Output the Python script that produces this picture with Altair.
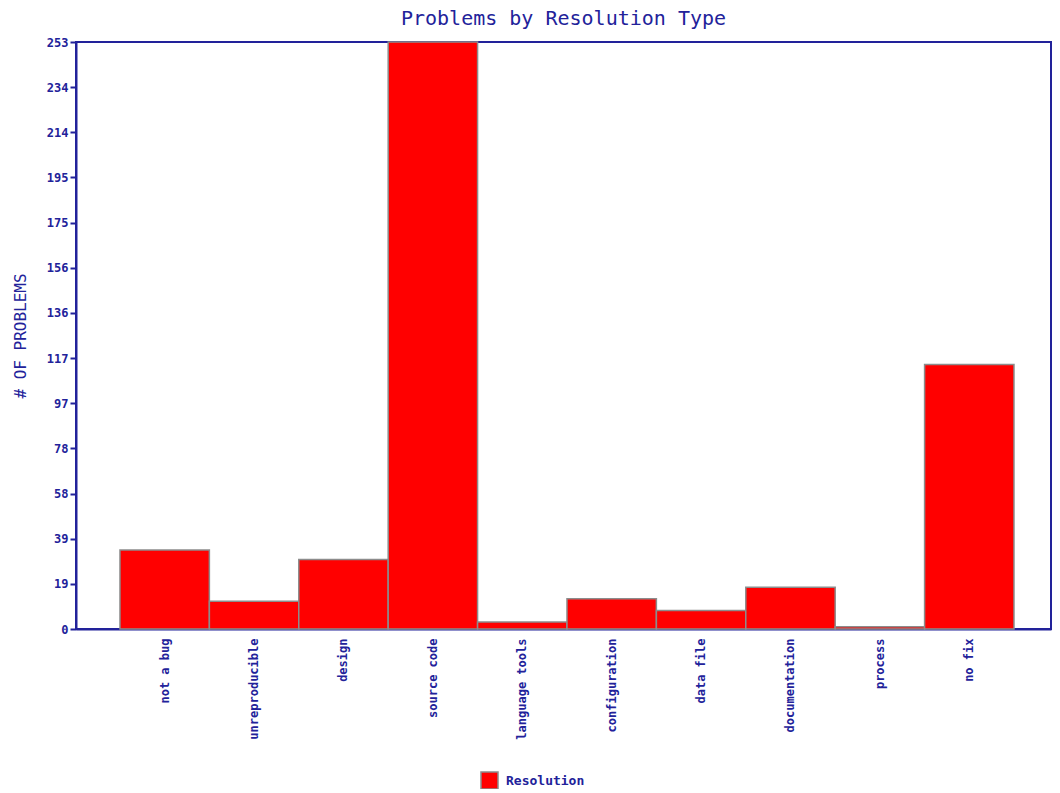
import altair as alt
import pandas as pd

categories = ["not a bug", "unreproducible", "design", "source code", "language tools",
              "configuration", "data file", "documentation", "process", "no fix"]
counts = [34, 12, 30, 253, 3, 13, 8, 18, 1, 114]
series_name = "Resolution"
y_max = 253
tick_labels = [0, 19, 39, 58, 78, 97, 117, 136, 156, 175, 195, 214, 234, 253]

df = pd.DataFrame({"category": categories, "count": counts, "series": [series_name] * len(categories)})

NAVY = "#22229a"
FONT = "DejaVu Sans Mono"
tick_values = [y_max * k / (len(tick_labels) - 1) for k in range(len(tick_labels))]

bars = alt.Chart(df).mark_bar(
    fill="#ff0000", stroke="#8c8c8c", strokeWidth=1.5, opacity=1
).encode(
    x=alt.X("category:N", sort=categories,
            scale=alt.Scale(paddingInner=0, paddingOuter=0.453, align=0.543),
            axis=alt.Axis(title=None, labelAngle=270, labelAlign="right", labelBaseline="middle",
                          labelFont=FONT, labelFontSize=12, labelColor=NAVY, labelPadding=9,
                          ticks=False, domainColor=NAVY, domainWidth=2, labelFontWeight="bold")),
    y=alt.Y("count:Q", scale=alt.Scale(domain=[0, y_max], nice=False),
            axis=alt.Axis(title="# OF PROBLEMS", values=tick_values, format=".0f",
                          labelFont=FONT, labelFontSize=12, labelFontWeight="bold",
                          labelColor=NAVY, tickColor=NAVY, tickSize=6, tickWidth=2,
                          domainColor=NAVY, domainWidth=2, grid=False,
                          titleFont=FONT, titleFontSize=16, titleFontWeight="normal",
                          titleColor=NAVY, titlePadding=18)),
    color=alt.Color("series:N", scale=alt.Scale(range=["#ff0000"]),
                    legend=alt.Legend(title=None, orient="none", legendX=404, legendY=729,
                                      symbolType="square", symbolSize=290,
                                      symbolStrokeColor="#8c8c8c", symbolStrokeWidth=1.5,
                                      labelFont=FONT, labelFontSize=13, labelFontWeight="bold",
                                      labelColor=NAVY, labelOffset=7)),
)

chart = bars.properties(
    width=975, height=587,
    title=alt.TitleParams("Problems by Resolution Type", font=FONT, fontSize=20,
                          fontWeight="normal", color=NAVY, anchor="middle", offset=7),
    autosize=alt.AutoSizeParams(type="none"),
    padding={"left": 68, "top": 34, "right": 1, "bottom": 160},
).configure_view(stroke=NAVY, strokeWidth=2)

chart.save("out.html", embed_options={"renderer": "svg", "actions": False})
